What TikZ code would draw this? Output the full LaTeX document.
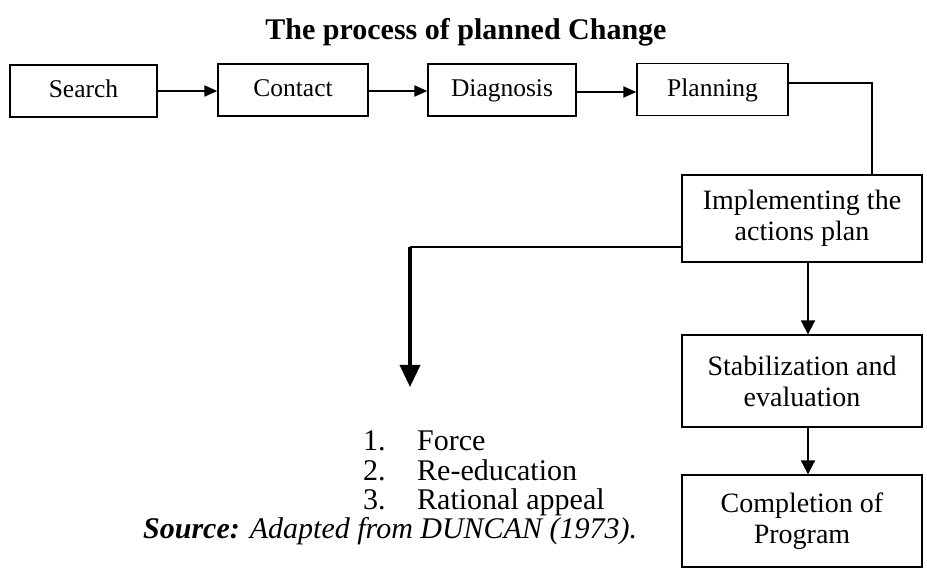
\documentclass[tikz,border=0pt]{standalone}
\usepackage{fontspec}
\setmainfont{Liberation Serif}
\usetikzlibrary{arrows.meta}
\begin{document}
\begin{tikzpicture}[x=1pt,y=-1pt,
  box/.style={draw,line width=1.3pt,inner sep=0pt,align=center,font=\fontsize{25.5}{30}\selectfont},
  topbox/.style={box,minimum height=52pt,text height=19pt,text depth=5pt},
  bigbox/.style={box,minimum width=240pt,font=\fontsize{28}{31}\selectfont},
  flow/.style={line width=2pt,-{Triangle[length=13pt,width=11pt]}},
  vflow/.style={line width=1.8pt,-{Triangle[length=14pt,width=14pt]}},
  list/.style={anchor=base west,inner sep=0pt,font=\fontsize{30}{34}\selectfont}]
\useasboundingbox (0,0) rectangle (927,569);
\node[anchor=base,inner sep=0pt,font=\fontsize{30}{34}\selectfont\bfseries] (title) at (466,40) {The process of planned Change};
\node[topbox,minimum width=147pt] (search) at (83.5,91) {Search};
\node[topbox,minimum width=150pt] (contact) at (293,90) {Contact};
\node[topbox,minimum width=148pt] (diag) at (502,90) {Diagnosis};
\node[topbox,minimum width=151pt] (plan) at (712.5,89.5) {Planning};
\node[bigbox,minimum height=87pt] (impl) at (802,218.5) {Implementing the\\actions plan};
\node[bigbox,minimum height=92pt] (stab) at (802,381) {Stabilization and\\evaluation};
\node[bigbox,minimum height=92pt] (comp) at (802,521) {Completion of\\Program};
\draw[flow] (search.east |- 0,91) -- (contact.west |- 0,91);
\draw[flow] (contact.east |- 0,91) -- (diag.west |- 0,91);
\draw[flow] (diag.east |- 0,92) -- (plan.west |- 0,92);
\coordinate (pc) at (872,83);
\draw[line width=1.6pt] (plan.east |- pc) -- (pc) -- (pc |- impl.north);
\coordinate (corner) at (410,247);
\coordinate (tip) at (410,387);
\draw[line width=2pt] (impl.west |- corner) -- (corner);
\draw[line width=3.5pt,-{Triangle[length=22pt,width=20pt]}] (corner) -- (tip);
\draw[vflow] (impl.south -| 808,0) -- (stab.north -| 808,0);
\draw[vflow] (stab.south -| 808,0) -- (comp.north -| 808,0);
\node[list] (l1) at (363,450) {\makebox[54pt][l]{1.}Force};
\node[list] (l2) at (363,480) {\makebox[54pt][l]{2.}Re-education};
\node[list] (l3) at (363,509) {\makebox[54pt][l]{3.}Rational appeal};
\node[list] (src) at (143,538) {\textbf{\textit{Source:}} \textit{Adapted from DUNCAN (1973).}};
\end{tikzpicture}
\end{document}
